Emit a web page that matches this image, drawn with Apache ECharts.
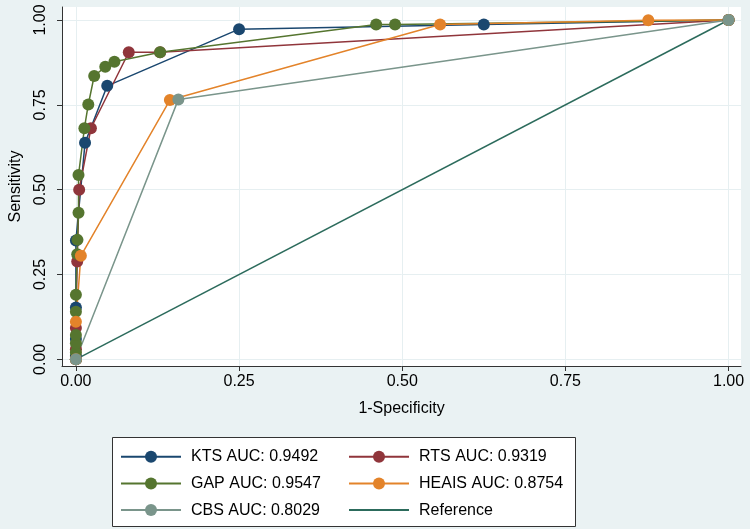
<!DOCTYPE html>
<html><head><meta charset="utf-8">
<script src="https://cdn.jsdelivr.net/npm/echarts@6/dist/echarts.min.js"></script>
<style>html,body{margin:0;padding:0;background:#eaf2f3}#c{width:750px;height:529px}</style>
</head><body><div id="c"></div><script>
const tickValues = [0, 0.25, 0.5, 0.75, 1];
const seriesNames = ['KTS AUC: 0.9492', 'RTS AUC: 0.9319', 'GAP AUC: 0.9547', 'HEAIS AUC: 0.8754', 'CBS AUC: 0.8029', 'Reference'];
const seriesColors = ['#1a476f', '#90353b', '#55752f', '#e3832a', '#7a958b', '#2c6b5c'];

const ktsFpr  = [0, 0, 0, 0, 0, 0.014, 0.048, 0.25, 0.625, 1];
const ktsSens = [0, 0.01, 0.06, 0.153, 0.35, 0.638, 0.806, 0.973, 0.987, 1];

const rtsFpr  = [0, 0, 0, 0.002, 0.005, 0.023, 0.081, 0.129, 1];
const rtsSens = [0, 0.03, 0.092, 0.288, 0.50, 0.681, 0.905, 0.905, 1];

const gapFpr  = [0, 0, 0, 0, 0, 0, 0.002, 0.0024, 0.004, 0.004, 0.013, 0.019, 0.028, 0.045, 0.059, 0.129, 0.46, 0.489, 1];
const gapSens = [0, 0.02, 0.047, 0.072, 0.14, 0.19, 0.31, 0.352, 0.432, 0.543, 0.681, 0.751, 0.835, 0.862, 0.877, 0.905, 0.987, 0.987, 1];

const heaisFpr  = [0, 0, 0.0076, 0.144, 0.558, 0.877, 1];
const heaisSens = [0, 0.111, 0.305, 0.764, 0.987, 0.999, 1];

const cbsFpr  = [0, 0.157, 1];
const cbsSens = [0, 0.766, 1];

const refFpr  = [0, 1];
const refSens = [0, 1];

const zip = (a, b) => a.map((v, i) => [v, b[i]]);
const allData = [zip(ktsFpr, ktsSens), zip(rtsFpr, rtsSens), zip(gapFpr, gapSens), zip(heaisFpr, heaisSens), zip(cbsFpr, cbsSens), zip(refFpr, refSens)];

const font = 'Liberation Sans, Arial, Helvetica, sans-serif';
const series = allData.map((d, i) => ({
  name: seriesNames[i],
  type: 'line',
  data: d,
  symbol: i === 5 ? 'none' : 'circle',
  symbolSize: 12,
  showSymbol: i !== 5,
  color: seriesColors[i],
  itemStyle: { color: seriesColors[i] },
  lineStyle: { color: seriesColors[i], width: 1.5 },
  animation: false,
  z: 2
}));

const legendText = { fontSize: 16, color: '#000', fontFamily: font, padding: [0, 0, 0, 5], lineHeight: 16 };
const legendBase = { orient: 'vertical', padding: 0, itemWidth: 60, itemHeight: 15, itemGap: 10.7, selectedMode: false, textStyle: legendText, top: 448.7 };

const chart = echarts.init(document.getElementById('c'), null, { renderer: 'canvas' });
chart.setOption({
  backgroundColor: '#eaf2f3',
  animation: false,
  grid: { left: 57, right: 9, top: 7, bottom: 163, show: true, backgroundColor: '#ffffff', borderWidth: 0 },
  xAxis: {
    type: 'value', min: -0.0213, max: 1.019,
    name: '1-Specificity', nameLocation: 'middle', nameGap: 35,
    nameTextStyle: { fontSize: 16, color: '#000', fontFamily: font },
    axisLine: { show: true, onZero: false, lineStyle: { color: '#333', width: 1 } },
    axisTick: { show: true, length: 5, customValues: tickValues, lineStyle: { color: '#333' } },
    axisLabel: { customValues: tickValues, margin: 8, fontSize: 16, color: '#000', fontFamily: font, formatter: v => v.toFixed(2) },
    splitLine: { show: true, lineStyle: { color: '#e6eff1', width: 1 } }
  },
  yAxis: {
    type: 'value', min: -0.0197, max: 1.0383,
    name: 'Sensitivity', nameLocation: 'middle', nameGap: 38,
    nameTextStyle: { fontSize: 16, color: '#000', fontFamily: font },
    axisLine: { show: true, onZero: false, lineStyle: { color: '#333', width: 1 } },
    axisTick: { show: true, length: 5, customValues: tickValues, lineStyle: { color: '#333' } },
    axisLabel: { customValues: tickValues, margin: 13, rotate: 90, fontSize: 16, color: '#000', fontFamily: font, formatter: v => v.toFixed(2) },
    splitLine: { show: true, lineStyle: { color: '#e6eff1', width: 1 } }
  },
  graphic: [{
    type: 'rect', z: 0,
    shape: { x: 112.5, y: 437.5, width: 463, height: 89 },
    style: { fill: '#ffffff', stroke: '#333', lineWidth: 1 }
  }],
  legend: [
    Object.assign({}, legendBase, { left: 120, data: [seriesNames[0], seriesNames[2], seriesNames[4]] }),
    Object.assign({}, legendBase, { left: 348, data: [seriesNames[1], seriesNames[3], { name: seriesNames[5], itemStyle: { opacity: 0 } }] })
  ],
  series: series
});
</script></body></html>
